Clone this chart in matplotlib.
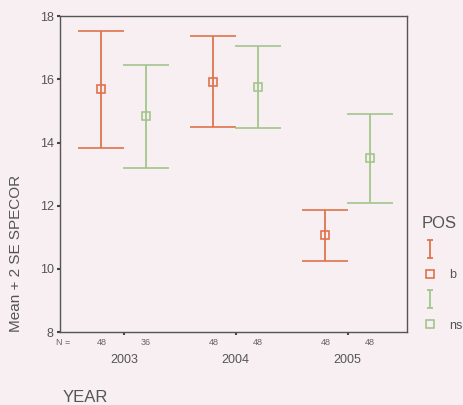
import matplotlib.pyplot as plt
import numpy as np
from matplotlib.path import Path
from matplotlib.lines import Line2D

plt.rcParams['font.family'] = ['Liberation Sans', 'DejaVu Sans']

years = ['2003', '2004', '2005']
groups = ['b', 'ns']
colors = ['#e0734c', '#a3c68c']

# mean and mean +/- 2 SE
b_mean = [15.68, 15.92, 11.07]
b_low = [13.83, 14.49, 10.26]
b_high = [17.53, 17.37, 11.88]
ns_mean = [14.84, 15.76, 13.50]
ns_low = [13.21, 14.45, 12.10]
ns_high = [16.45, 17.05, 14.89]
b_n = [48, 48, 48]
ns_n = [36, 48, 48]

bg = '#f7eff1'
fig = plt.figure(figsize=(4.64, 4.05), dpi=100, facecolor=bg)
ax = fig.add_axes([0.1293, 0.180, 0.748, 0.780], facecolor=bg)

pos = np.arange(1, len(years) + 1)
offs = [-0.2, 0.2]
means = [b_mean, ns_mean]
lows = [b_low, ns_low]
highs = [b_high, ns_high]
ns = [b_n, ns_n]

for i in range(2):
    m = np.array(means[i])
    yerr = [m - np.array(lows[i]), np.array(highs[i]) - m]
    ax.errorbar(pos + offs[i], m, yerr=yerr, fmt='s', mfc='none', mec=colors[i],
                ms=5.5, mew=1.2, ecolor=colors[i], elinewidth=1.3,
                capsize=16.5, capthick=1.3)
    for x, n in zip(pos + offs[i], ns[i]):
        ax.text(x, -0.032, str(n), transform=ax.get_xaxis_transform(),
                ha='center', va='center', fontsize=6.5, color='#666')

ax.text(0.46, -0.032, 'N =', transform=ax.get_xaxis_transform(),
        ha='center', va='center', fontsize=6.5, color='#666')

ax.set_xlim(0.43, 3.53)
ax.set_ylim(8, 18)
ax.set_yticks([8, 10, 12, 14, 16, 18])
ax.set_xticks(pos, years)
ax.tick_params(axis='y', direction='out', length=2.5, width=1.5, color='#444',
               labelsize=9, labelcolor='#555', pad=2)
ax.tick_params(axis='x', direction='out', length=2, width=1.5, color='#444',
               labelsize=9, labelcolor='#555', pad=14)
for s in ax.spines.values():
    s.set_color('#555')
    s.set_linewidth(1.0)

fig.text(16 / 464, 1 - 253 / 405, 'Mean + 2 SE SPECOR', rotation=90,
         ha='center', va='center', fontsize=11, color='#555')
fig.text(63 / 464, 1 - 398 / 405, 'YEAR', ha='left', va='center',
         fontsize=12, color='#555')

# legend
ibar = Path([(-0.38, -1), (0.38, -1), (0, -1), (0, 1), (-0.38, 1), (0.38, 1)],
            [Path.MOVETO, Path.LINETO, Path.MOVETO, Path.LINETO, Path.MOVETO, Path.LINETO])
handles = []
labels = []
for i, g in enumerate(groups):
    handles.append(Line2D([], [], ls='none', marker=ibar, ms=13, mew=1.3,
                          color=colors[i]))
    labels.append('')
    handles.append(Line2D([], [], ls='none', marker='s', ms=5.5, mew=1.2,
                          mfc='none', mec=colors[i]))
    labels.append(g)
leg = fig.legend(handles, labels, title='POS', loc='upper left',
                 bbox_to_anchor=(410 / 464, 1 - 205 / 405), frameon=False,
                 handlelength=1.4, handletextpad=0.8, labelspacing=1.05,
                 fontsize=9, title_fontsize=12, alignment='left')
for t in leg.get_texts():
    t.set_color('#555')
leg.get_title().set_color('#555')

fig.savefig('out.png', dpi=100, facecolor=bg)
